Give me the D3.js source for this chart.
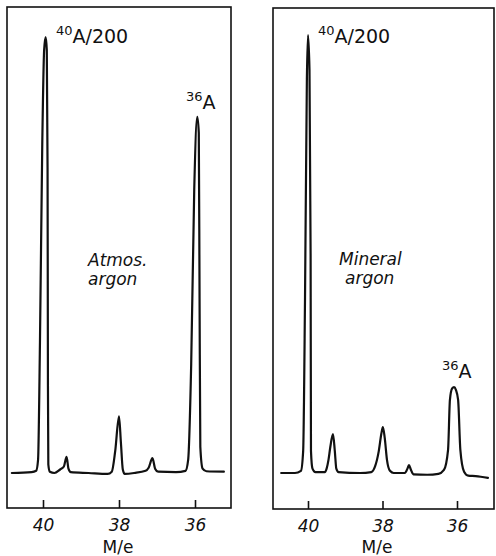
<!DOCTYPE html>
<html>
<head>
<meta charset="utf-8">
<script src="https://cdn.jsdelivr.net/npm/d3@7"></script>
<style>
  html, body { margin: 0; padding: 0; background: #fff; }
  svg { display: block; }
  text { font-family: "DejaVu Sans", sans-serif; fill: #111; }
</style>
</head>
<body>
<svg id="chart" width="496" height="556"></svg>
<script>
// ---- Data ----
const tickValues = [40, 38, 36];
const tickLabels = ["40", "38", "36"];
const axisTitle = "M/e";

// Atmospheric argon trace: mass-to-charge and relative signal (40A peak = 100, after /200)
const atmosMass = [40.82, 40.30, 40.18, 40.13, 40.08, 40.02, 39.97, 39.93, 39.90, 39.88, 39.87, 39.86, 39.82, 39.70,
  39.55, 39.45, 39.38, 39.33, 39.27, 38.80, 38.30, 38.19, 38.10, 38.00, 37.95, 37.90, 37.85, 37.60,
  37.30, 37.22, 37.12, 37.05, 36.97, 36.50, 36.25, 36.18, 36.10, 36.02, 35.94, 35.90, 35.88, 35.86, 35.80, 35.70, 35.24];
const atmosSignal = [0, 0.2, 0.5, 3, 30, 75, 97, 100, 97, 70, 20, 2, 0.3, 0,
  0.8, 1.5, 3.7, 1.0, 0.2, 0, -0.2, 0.3, 5, 13, 7, 0.8, -0.2, 0,
  0.5, 1.2, 3.4, 1.0, 0.3, 0.2, 0.5, 3, 25, 65, 81.7, 78, 40, 6, 1, 0.4, 0.3];

// Mineral argon trace
const mineralMass = [40.72, 40.35, 40.19, 40.13, 40.08, 40.03, 40.00, 39.96, 39.93, 39.92, 39.88, 39.80,
  39.55, 39.50, 39.45, 39.40, 39.33, 39.28, 39.24, 39.18, 38.60,
  38.30, 38.20, 38.10, 38.03, 37.99, 37.94, 37.88, 37.80, 37.70,
  37.40, 37.33, 37.29, 37.24, 37.17, 36.80,
  36.50, 36.35, 36.24, 36.19, 36.13, 36.08, 36.03, 35.97, 35.91, 35.81, 35.70, 35.50, 35.17];
const mineralSignal = [0, 0, 0.5, 5, 40, 90, 100, 92, 50, 5, 1, 0.2,
  0.2, 1, 3.0, 6, 8.9, 5, 1, 0.2, 0,
  0.2, 1.5, 5, 9, 10.5, 8, 3, 0.5, 0,
  0, 1, 1.8, 0.8, -0.3, -0.4,
  -0.2, 0.7, 5.3, 16.7, 19.3, 19.6, 19.0, 16.7, 5.3, 0.3, -0.6, -0.7, -1.1];

const panelNames = [["Atmos.", "argon"], ["Mineral", "argon"]];
const peakLabelMain = ["40", "A/200"];
const peakLabelMinor = ["36", "A"];

// ---- Layout ----
const panels = [
  { mass: atmosMass, signal: atmosSignal, name: panelNames[0],
    frame: { x0: 7, y0: 7, x1: 231, y1: 508 },
    xRange: [43, 195], yRange: [473, 37],
    bigLabel: { x: 56, y: 43 }, smallLabel: { x: 186, y: 109 },
    nameAt: { x: 88, y: 266 }, indent: 0, titleX: 118 },
  { mass: mineralMass, signal: mineralSignal, name: panelNames[1],
    frame: { x0: 273, y0: 8, x1: 494, y1: 509 },
    xRange: [308, 457], yRange: [473, 35],
    bigLabel: { x: 318, y: 43 }, smallLabel: { x: 442, y: 378 },
    nameAt: { x: 339, y: 265 }, indent: 6, titleX: 377 }
];

const svg = d3.select("#chart");

panels.forEach(p => {
  const x = d3.scaleLinear().domain([40, 36]).range(p.xRange);
  const y = d3.scaleLinear().domain([0, 100]).range(p.yRange);
  const g = svg.append("g");

  // frame
  g.append("rect")
    .attr("x", p.frame.x0).attr("y", p.frame.y0)
    .attr("width", p.frame.x1 - p.frame.x0).attr("height", p.frame.y1 - p.frame.y0)
    .attr("fill", "none").attr("stroke", "#111").attr("stroke-width", 1.6);

  // axis (ticks pointing inward) + labels
  const axis = d3.axisBottom(x).tickValues(tickValues)
    .tickSize(-8).tickPadding(14)
    .tickFormat((d, i) => tickLabels[i]);
  const ax = g.append("g").attr("transform", `translate(0,${p.frame.y1})`).call(axis);
  ax.select(".domain").remove();
  ax.selectAll(".tick line").attr("stroke", "#111").attr("stroke-width", 1.6);
  ax.selectAll(".tick text")
    .attr("font-size", 17).attr("font-style", "italic")
    .attr("font-family", "DejaVu Sans, sans-serif").attr("fill", "#111")
    .attr("dy", "0.71em").attr("y", 11);

  g.append("text").attr("x", p.titleX).attr("y", 553)
    .attr("text-anchor", "middle").attr("font-size", 17).text(axisTitle);

  // trace
  const pts = p.mass.map((m, i) => [x(m), y(p.signal[i])]);
  g.append("path")
    .attr("d", d3.line().curve(d3.curveMonotoneX)(pts))
    .attr("fill", "none").attr("stroke", "#111").attr("stroke-width", 2.2)
    .attr("stroke-linejoin", "round").attr("stroke-linecap", "round");

  // peak labels
  const bl = g.append("text").attr("x", p.bigLabel.x).attr("y", p.bigLabel.y).attr("font-size", 19);
  bl.append("tspan").attr("font-size", 13).attr("dy", -8).text(peakLabelMain[0]);
  bl.append("tspan").attr("dy", 8).text(peakLabelMain[1]);
  const sl = g.append("text").attr("x", p.smallLabel.x).attr("y", p.smallLabel.y).attr("font-size", 19);
  sl.append("tspan").attr("font-size", 13).attr("dy", -8).text(peakLabelMinor[0]);
  sl.append("tspan").attr("dy", 8).text(peakLabelMinor[1]);

  // panel name (two separate lines)
  g.append("text").attr("font-size", 17).attr("font-style", "italic")
    .attr("x", p.nameAt.x).attr("y", p.nameAt.y).text(p.name[0]);
  g.append("text").attr("font-size", 17).attr("font-style", "italic")
    .attr("x", p.nameAt.x + p.indent).attr("y", p.nameAt.y + 19).text(p.name[1]);
});
</script>
</body>
</html>
